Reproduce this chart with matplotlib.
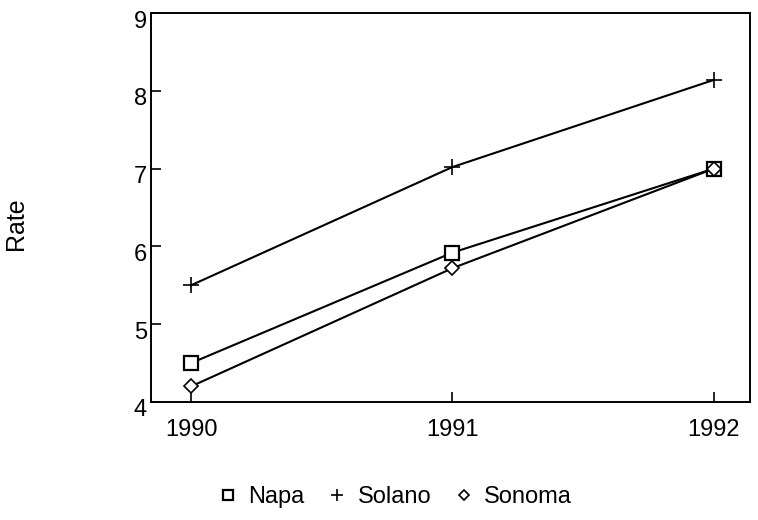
import matplotlib.pyplot as plt
from matplotlib.transforms import ScaledTranslation

# Datos
years = [1990, 1991, 1992]
napa = [4.5, 5.92, 7.0]
solano = [5.5, 7.02, 8.14]
sonoma = [4.2, 5.72, 7.0]
yticks = [4, 5, 6, 7, 8, 9]

plt.rcParams['font.family'] = ['Liberation Sans', 'DejaVu Sans']

fig = plt.figure(figsize=(7.58, 5.2), dpi=100)
ax = fig.add_axes([151 / 758, 1 - 402 / 520, 599 / 758, 389 / 520])

ax.plot(years, napa, color='black', lw=1.5, marker='s', ms=10,
        mfc='white', mec='black', mew=1.6, label='Napa')
ax.plot(years, solano, color='black', lw=1.5, marker='+', ms=11,
        mew=1.2, label='Solano')
ax.plot(years, sonoma, color='black', lw=1.5, marker='D', ms=7,
        mfc='white', mec='black', mew=1.2, label='Sonoma')

ax.set_xlim(1989.847, 1992.138)
ax.set_ylim(4, 9)
ax.set_xticks(years)
ax.set_xticklabels([str(y) for y in years])
ax.set_yticks(yticks)
ax.set_yticklabels([str(v) for v in yticks])
ax.tick_params(axis='x', direction='in', length=7, width=1.2, labelsize=17, pad=12)
ax.tick_params(axis='y', direction='in', length=7, width=1.2, labelsize=17, pad=3)
for s in ax.spines.values():
    s.set_linewidth(1.4)

# las etiquetas del eje y quedan un poco por debajo de su marca
for lab in ax.get_yticklabels():
    lab.set_transform(lab.get_transform() + ScaledTranslation(0, -6 / 100, fig.dpi_scale_trans))

fig.text(16 / 758, 1 - 224 / 520, 'Rate', rotation=90, fontsize=18,
         ha='center', va='center')

leg = fig.legend(loc='center left', bbox_to_anchor=(221 / 758, 1 - 497 / 520),
                 ncol=3, frameon=False, fontsize=17, handlelength=0.6,
                 handletextpad=0.55, columnspacing=1.1, markerscale=0.75,
                 borderpad=0, borderaxespad=0)
for h in leg.legend_handles:
    h.set_linestyle('none')

fig.savefig('out.png', dpi=100)
